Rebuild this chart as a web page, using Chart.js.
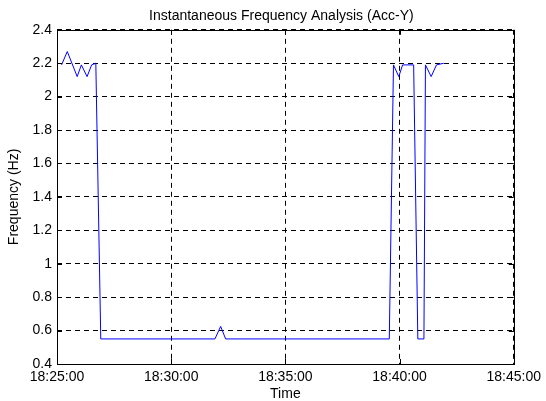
<!DOCTYPE html>
<html lang="en">
<head>
  <meta charset="UTF-8">
  <script src="https://cdn.jsdelivr.net/npm/chart.js"></script>
  <title>Instantaneous Frequency Analysis (Acc-Y)</title>
  <style>
    html, body { margin: 0; padding: 0; background: #fff; }
    canvas { display: block; }
  </style>
</head>
<body>
  <canvas id="grafico" width="546" height="401"></canvas>

  <script>
    // sample times and the frequency at each one
    const sampleTimes = [
      '18:25:12', '18:25:27', '18:25:53', '18:26:04', '18:26:19', '18:26:31', '18:26:42',
      '18:26:55', '18:31:55', '18:32:10', '18:32:23', '18:39:33',
      '18:39:44', '18:39:58', '18:40:08', '18:40:37', '18:40:48', '18:41:04',
      '18:41:08', '18:41:23', '18:41:37', '18:41:56'
    ];
    const frequencyHz = [
      2.19, 2.27, 2.12, 2.19, 2.12, 2.19, 2.2,
      0.55, 0.55, 0.625, 0.55, 0.55,
      2.19, 2.12, 2.19, 2.19, 0.55, 0.55,
      2.19, 2.12, 2.19, 2.2
    ];
    const xTickLabels = ['18:25:00', '18:30:00', '18:35:00', '18:40:00', '18:45:00'];
    const yTickValues = [0.4, 0.6, 0.8, 1, 1.2, 1.4, 1.6, 1.8, 2, 2.2, 2.4];

    const FONT = { family: "'Liberation Sans', Arial, sans-serif", size: 14 };

    const toSec = t => {
      const [h, m, s] = t.split(':').map(Number);
      return h * 3600 + m * 60 + s;
    };
    const t0 = toSec(xTickLabels[0]);
    const tEnd = toSec(xTickLabels[xTickLabels.length - 1]);
    const tStep = toSec(xTickLabels[1]) - t0;

    const puntos = sampleTimes.map((t, i) => ({ x: toSec(t) - t0, y: frequencyHz[i] }));

    // box round the axes with inward ticks, like matlab
    const marco = {
      id: 'marco',
      afterLayout(chart) {
        // centre the title over the axes, not the whole canvas
        const a = chart.chartArea, tb = chart.titleBlock;
        const mid = (a.left + a.right) / 2 - 4;
        const half = Math.min(mid, chart.width - mid);
        tb.left = mid - half;
        tb.right = mid + half;
      },
      afterDraw(chart) {
        const { ctx, chartArea: a, scales } = chart;
        ctx.save();
        ctx.strokeStyle = '#000';
        ctx.lineWidth = 1;
        ctx.strokeRect(Math.round(a.left) + 0.5, Math.round(a.top) + 0.5,
          Math.round(a.right - a.left), Math.round(a.bottom - a.top));
        ctx.beginPath();
        scales.x.ticks.forEach(tk => {
          const x = Math.round(scales.x.getPixelForValue(tk.value)) + 0.5;
          ctx.moveTo(x, a.bottom); ctx.lineTo(x, a.bottom - 5);
          ctx.moveTo(x, a.top); ctx.lineTo(x, a.top + 5);
        });
        scales.y.ticks.forEach(tk => {
          const y = Math.round(scales.y.getPixelForValue(tk.value)) + 0.5;
          ctx.moveTo(a.left, y); ctx.lineTo(a.left + 5, y);
          ctx.moveTo(a.right, y); ctx.lineTo(a.right - 5, y);
        });
        ctx.stroke();
        ctx.restore();
      }
    };

    new Chart(document.getElementById('grafico'), {
      type: 'line',
      data: {
        datasets: [{
          data: puntos,
          borderColor: '#0000ff',
          borderWidth: 1,
          pointRadius: 0,
          tension: 0,
          fill: false
        }]
      },
      options: {
        responsive: false,
        animation: false,
        layout: { padding: { left: 0, right: 29, top: 0, bottom: 0 } },
        plugins: {
          legend: { display: false },
          tooltip: { enabled: false },
          title: {
            display: true,
            text: 'Instantaneous Frequency Analysis (Acc-Y)',
            color: '#000',
            font: { ...FONT, weight: 'normal' },
            padding: { top: 8, bottom: 5 }
          }
        },
        scales: {
          x: {
            type: 'linear',
            min: 0,
            max: tEnd - t0,
            afterFit: s => { s.height = 37; },
            afterBuildTicks: s => { s.ticks = xTickLabels.map((_, i) => ({ value: i * tStep })); },
            ticks: {
              color: '#000',
              font: FONT,
              padding: 5,
              maxRotation: 0,
              autoSkip: false,
              callback: (v, i) => xTickLabels[i]
            },
            grid: { color: '#000', lineWidth: 1, drawTicks: false },
            border: { display: false, dash: [5, 4] },
            title: {
              display: true,
              text: 'Time',
              color: '#000',
              font: { ...FONT, lineHeight: 1 },
              padding: { top: 0, bottom: 0 }
            }
          },
          y: {
            min: yTickValues[0],
            max: yTickValues[yTickValues.length - 1],
            afterFit: s => { s.width = 57; },
            afterBuildTicks: s => { s.ticks = yTickValues.map(v => ({ value: v })); },
            ticks: {
              color: '#000',
              font: FONT,
              padding: 5,
              callback: v => String(+v.toFixed(1))
            },
            grid: { color: '#000', lineWidth: 1, drawTicks: false },
            border: { display: false, dash: [5, 4] },
            title: {
              display: true,
              text: 'Frequency (Hz)',
              color: '#000',
              font: FONT,
              padding: { top: 6, bottom: 0 }
            }
          }
        }
      },
      plugins: [marco]
    });
  </script>
</body>
</html>
